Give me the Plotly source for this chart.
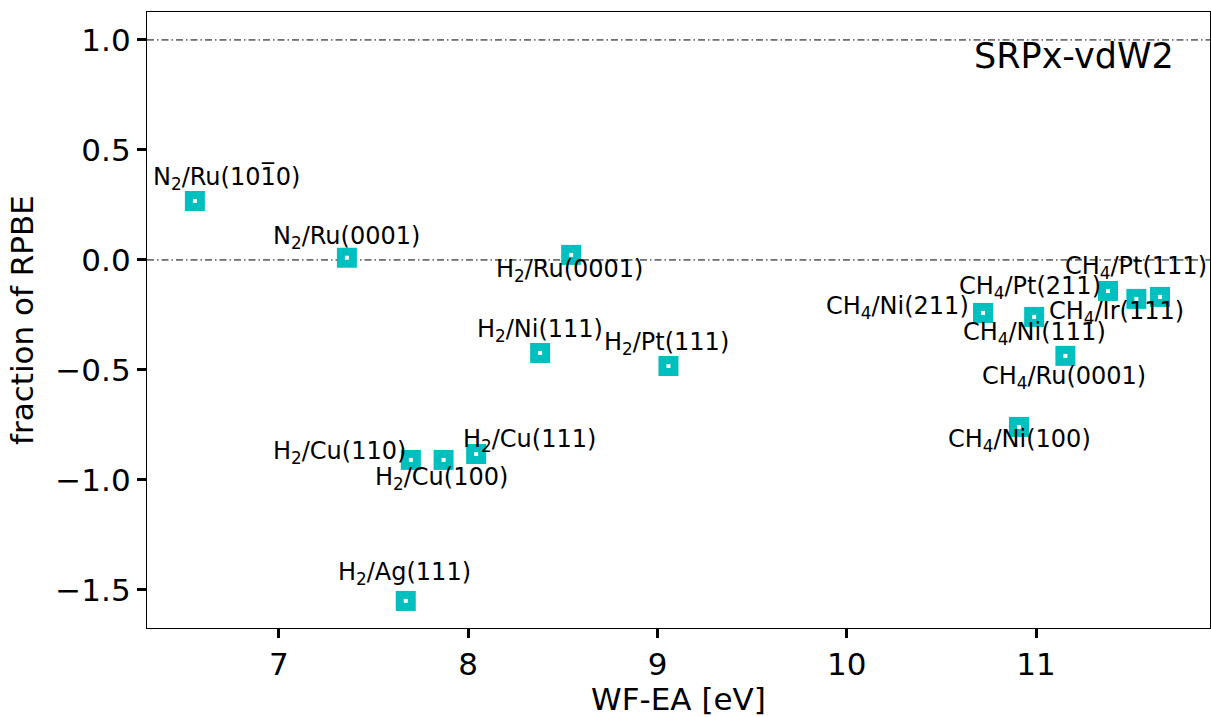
import plotly.graph_objects as go

labels = ["N<sub>2</sub>/Ru(101\u03050)", "N<sub>2</sub>/Ru(0001)", "H<sub>2</sub>/Ru(0001)",
          "H<sub>2</sub>/Ni(111)", "H<sub>2</sub>/Pt(111)", "H<sub>2</sub>/Cu(110)",
          "H<sub>2</sub>/Cu(100)", "H<sub>2</sub>/Cu(111)", "H<sub>2</sub>/Ag(111)",
          "CH<sub>4</sub>/Ni(211)", "CH<sub>4</sub>/Ni(111)", "CH<sub>4</sub>/Ru(0001)",
          "CH<sub>4</sub>/Ni(100)", "CH<sub>4</sub>/Pt(211)", "CH<sub>4</sub>/Ir(111)",
          "CH<sub>4</sub>/Pt(111)"]
wf_ea = [6.556, 7.359, 8.544, 8.38, 9.058, 7.697, 7.87, 8.042, 7.67,
         10.72, 10.99, 11.155, 10.91, 11.38, 11.53, 11.655]
frac = [0.268, 0.01, 0.023, -0.423, -0.482, -0.909, -0.909, -0.882, -1.55,
        -0.241, -0.259, -0.436, -0.759, -0.141, -0.177, -0.168]
# label pixel offsets (dx, dy) relative to points
offsets = [(32, -23), (0, -20), (-2, 16), (0, -23), (-2, -22), (-71, -7),
           (-2, 19), (53, -13), (-1, -27), (-86, -5), (0, 17), (-1, 22),
           (0, 14), (-78, -3), (-20, 14), (-24, -29)]

FONT = "DejaVu Sans"
fig = go.Figure()
for yv in [1.0, 0.0]:
    fig.add_shape(type="line", xref="paper", x0=0, x1=1, y0=yv, y1=yv,
                  line=dict(color="black", width=1, dash="7px,3px,1.5px,3px"), layer="below")

fig.add_trace(go.Scatter(x=wf_ea, y=frac, mode="markers",
                         marker=dict(symbol="square", size=20, color="#00BFBF", line=dict(width=0)),
                         hoverinfo="skip", showlegend=False))
fig.add_trace(go.Scatter(x=wf_ea, y=frac, mode="markers",
                         marker=dict(symbol="square", size=4, color="white", line=dict(width=0)),
                         hoverinfo="skip", showlegend=False))

for lab, xv, yv, (dx, dy) in zip(labels, wf_ea, frac, offsets):
    fig.add_annotation(x=xv, y=yv, text=lab, showarrow=False, xshift=dx, yshift=-dy,
                       font=dict(family=FONT, size=24, color="black"))

fig.add_annotation(xref="paper", yref="paper", x=0.968, y=0.965, text="SRPx-vdW2",
                   showarrow=False, xanchor="right", yanchor="top",
                   font=dict(family=FONT, size=35, color="black"))

axis_common = dict(showline=True, linecolor="black", linewidth=1.3, mirror=True,
                   ticks="outside", ticklen=9, tickwidth=2.5, tickcolor="black",
                   showgrid=False, zeroline=False,
                   tickfont=dict(family=FONT, size=31, color="black"))
fig.update_xaxes(range=[6.303, 11.919], tickvals=[7, 8, 9, 10, 11],
                 title=dict(text="WF-EA [eV]", font=dict(family=FONT, size=31, color="black"), standoff=8),
                 **axis_common)
fig.update_yaxes(range=[-1.673, 1.127], tickvals=[-1.5, -1.0, -0.5, 0.0, 0.5, 1.0],
                 ticktext=["\u22121.5", "\u22121.0", "\u22120.5", "0.0", "0.5", "1.0"],
                 title=dict(text="fraction of RPBE", font=dict(family=FONT, size=31, color="black"), standoff=12),
                 **axis_common)
fig.update_layout(width=1211, height=717, margin=dict(l=147, r=1, t=12, b=89, autoexpand=False),
                  plot_bgcolor="white", paper_bgcolor="white")
fig.write_html("out.html", config={"displayModeBar": False},
               post_script="document.body.style.margin='0';")
